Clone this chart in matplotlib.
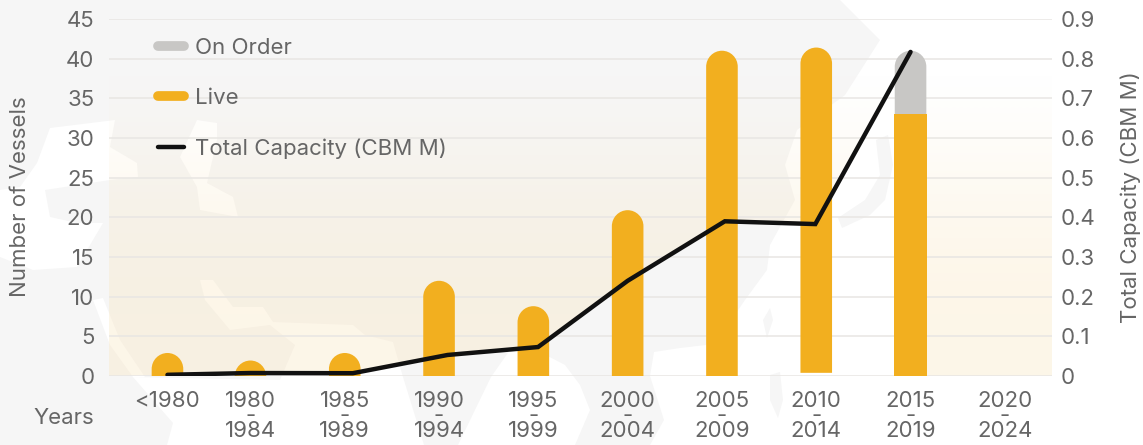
import numpy as np
import matplotlib
matplotlib.use('Agg')
import matplotlib.pyplot as plt
from matplotlib.lines import Line2D
from matplotlib.patches import PathPatch, Polygon
from matplotlib.path import Path
from matplotlib.colors import LinearSegmentedColormap

# data
years = ['<1980', '1980\n-\n1984', '1985\n-\n1989', '1990\n-\n1994', '1995\n-\n1999',
         '2000\n-\n2004', '2005\n-\n2009', '2010\n-\n2014', '2015\n-\n2019', '2020\n-\n2024']
live = [2.9, 1.95, 2.9, 12, 8.8, 20.9, 41, 41.4, 33, 0]
on_order = [0, 0, 0, 0, 0, 0, 0, 0, 8, 0]
bar_base = [0, 0, 0, 0, 0, 0, 0, 0.4, 0, 0]
capacity = [0.003, 0.0075, 0.007, 0.053, 0.073, 0.24, 0.39, 0.383, 0.817]

GREY = '#666666'
ORANGE = '#f2af1f'
LIGHT = '#c8c7c5'
LAND = '#f6f6f6'
W, H = 1143, 445

plt.rcParams['font.family'] = ['Inter', 'DejaVu Sans']
plt.rcParams['font.size'] = 16

# the first group and the line points sit a little off the even spacing
bar_shift = [0.12, 0, 0, 0, 0, 0, 0, 0, 0, 0]
line_shift = [0.12, 0, 0.085, 0.09, 0.05, 0, 0.03, -0.01, 0]
bar_w = 0.335
cap_h = 2.02

# faint map behind the chart, outlines in pixels of the picture
land = [(0, 0), (840, 0), (880, 40), (845, 95), (797, 130), (785, 165), (795, 200), (770, 245),
        (767, 270), (745, 300), (730, 322), (706, 345), (680, 348), (654, 352), (650, 376),
        (664, 420), (650, 445), (0, 445)]
water = [
    [(115, 120), (50, 128), (37, 163), (20, 187), (0, 190), (0, 257), (33, 270), (77, 267),
     (103, 223), (77, 223), (50, 217), (45, 190), (110, 180), (138, 177), (137, 163), (110, 147)],
    [(197, 120), (217, 123), (217, 140), (207, 183), (233, 197), (238, 217), (200, 210), (197, 187), (180, 157)],
    [(200, 280), (213, 280), (233, 307), (263, 307), (273, 322), (353, 325), (365, 335), (393, 342),
     (403, 377), (424, 445), (167, 445), (173, 423), (133, 377), (280, 380), (295, 345), (270, 325),
     (230, 330), (205, 300)],
    [(93, 300), (103, 298), (120, 340), (145, 377), (133, 377), (110, 345)],
    [(458, 445), (491, 377), (510, 350), (540, 352), (565, 365), (580, 385), (590, 410), (575, 445)],
]
islands = [
    [(763, 320), (770, 308), (773, 320), (767, 338)],
    [(770, 375), (780, 372), (783, 400), (778, 418), (770, 400)],
    [(876, 140), (888, 135), (893, 165), (885, 200), (870, 215), (842, 228), (838, 218), (865, 200), (880, 175)],
]


def rounded_bar(x, base, top, width, r_y, color, zorder=3):
    # bar with a round top, low bars get cut by the axes at the baseline
    l, r = x - width / 2, x + width / 2
    k = 0.5523
    rx = width / 2
    y0 = min(base, top - r_y)
    sh = top - r_y
    verts = [(l, y0), (l, sh),
             (l, sh + k * r_y), (x - k * rx, top), (x, top),
             (x + k * rx, top), (r, sh + k * r_y), (r, sh),
             (r, y0), (l, y0)]
    codes = [Path.MOVETO, Path.LINETO, Path.CURVE4, Path.CURVE4, Path.CURVE4,
             Path.CURVE4, Path.CURVE4, Path.CURVE4, Path.LINETO, Path.CLOSEPOLY]
    ax.add_patch(PathPatch(Path(verts, codes), facecolor=color, edgecolor='none', zorder=zorder))


fig = plt.figure(figsize=(W / 100, H / 100), dpi=100)

bg = fig.add_axes([0, 0, 1, 1], zorder=0)
bg.set_xlim(0, W)
bg.set_ylim(H, 0)
bg.axis('off')
bg.add_patch(Polygon(land, facecolor=LAND, edgecolor='none'))
for shape in water:
    bg.add_patch(Polygon(shape, facecolor='white', edgecolor='none'))
for shape in islands:
    bg.add_patch(Polygon(shape, facecolor=LAND, edgecolor='none'))

ax = fig.add_axes([109 / W, (H - 376) / H, (1052 - 109) / W, (376 - 19) / H], zorder=1)
ax.patch.set_visible(False)
ax.set_xlim(-0.5, 9.5)
ax.set_ylim(0, 45)
for s in ax.spines.values():
    s.set_visible(False)

x = np.arange(len(years)) + np.array(bar_shift)
ax.set_xticks(x)
ax.set_xticklabels(years, color=GREY, linespacing=0.69)
ax.set_yticks(np.arange(0, 46, 5))
ax.tick_params(axis='both', length=0, labelcolor=GREY)
ax.tick_params(axis='x', pad=11)
ax.tick_params(axis='y', pad=10.5)
ax.grid(axis='y', color='#e8e6e3', linewidth=1.1, zorder=1)
ax.set_axisbelow(True)

for i in range(len(years)):
    if live[i] == 0:
        continue
    if on_order[i] > 0:
        rounded_bar(x[i], live[i], live[i] + on_order[i], bar_w, cap_h, LIGHT)
        ax.bar(x[i], live[i], width=bar_w + 0.01, color=ORANGE, zorder=4)
    else:
        rounded_bar(x[i], bar_base[i], live[i], bar_w, cap_h, ORANGE)

ax2 = ax.twinx()
ax2.set_zorder(2)
ax2.patch.set_visible(False)
ax2.set_ylim(0, 0.9)
ax2.set_yticks(np.arange(0, 10) / 10)
ax2.set_yticklabels(['0'] + ['0.%d' % i for i in range(1, 10)])
ax2.tick_params(axis='y', length=0, labelcolor=GREY, pad=6.5)
for s in ax2.spines.values():
    s.set_visible(False)

line_x = np.arange(len(capacity)) + np.array(line_shift)
ax2.plot(line_x, capacity, color='#111111', linewidth=3.2, solid_capstyle='round',
         solid_joinstyle='miter', zorder=5)

# warm tint over the plot, left out under the capacity line
cmap = LinearSegmentedColormap.from_list('tint', [(0.98, 0.90, 0.74, 0.0), (0.98, 0.90, 0.74, 0.34)])
grad = np.array([1, 1, 0.95, 0.85, 0.7, 0.5, 0.3, 0.12, 0, 0]).reshape(-1, 1)
tint = ax.imshow(grad, extent=(-0.5, 9.5, 0, 45), origin='lower', aspect='auto',
                 cmap=cmap, vmin=0, vmax=1, zorder=0, interpolation='bilinear')
ax.set_xlim(-0.5, 9.5)
ax.set_ylim(0, 45)
cap_on_left = np.array(capacity) * 50
clip_pts = [(-0.5, 45), (9.5, 45), (9.5, 0), (line_x[-1], 0)]
clip_pts += list(zip(line_x[::-1], cap_on_left[::-1]))
clip_pts += [(-0.5, 0)]
clip = Polygon(clip_pts, transform=ax.transData)
tint.set_clip_path(clip)

handles = [Line2D([], [], color=LIGHT, lw=7, solid_capstyle='round'),
           Line2D([], [], color=ORANGE, lw=7, solid_capstyle='round'),
           Line2D([], [], color='#111111', lw=3.2, solid_capstyle='round')]
ax.legend(handles, ['On Order', 'Live', 'Total Capacity (CBM M)'], loc='upper left',
          bbox_to_anchor=(49 / 943, 1 - 19 / 357), frameon=False, labelcolor=GREY,
          handlelength=1.15, handletextpad=0.5, labelspacing=1.36, borderaxespad=0, borderpad=0)

fig.text(94 / W, 1 - 418 / H, 'Years', color=GREY, ha='right', va='center')
fig.text(20 / W, 1 - 197 / H, 'Number of Vessels', color=GREY, rotation=90, ha='center', va='center')
fig.text(1131 / W, 1 - 197 / H, 'Total Capacity (CBM M)', color=GREY, rotation=90, ha='center', va='center')

fig.savefig('out.png', dpi=100)
